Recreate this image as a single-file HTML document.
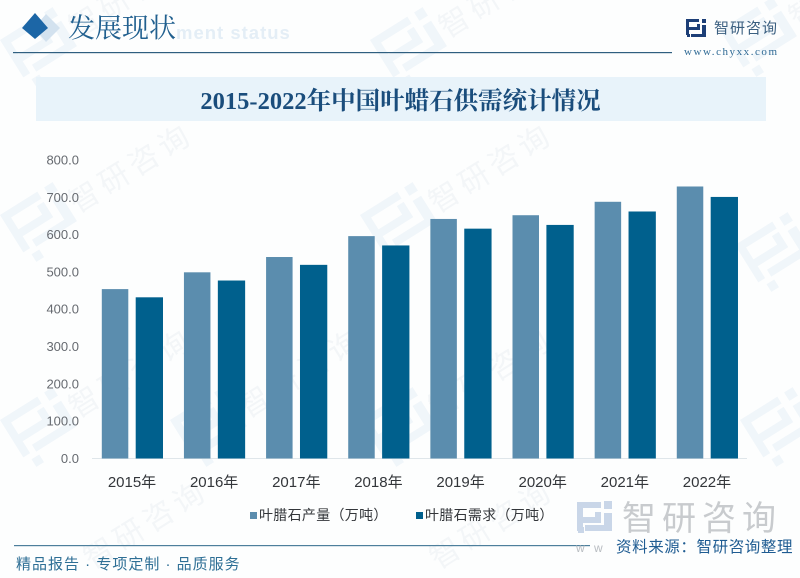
<!DOCTYPE html>
<html lang="zh">
<head>
<meta charset="utf-8">
<title>2015-2022年中国叶蜡石供需统计情况</title>
<style>
html,body{margin:0;padding:0;background:#fff;overflow:hidden}
#page{position:relative;width:800px;height:578px;overflow:hidden;background:#fdfefe}
svg{position:absolute;left:0;top:0}
</style>
</head>
<body>
<div id="page">
<svg id="chart" width="800" height="578" viewBox="0 0 800 578" xmlns="http://www.w3.org/2000/svg" style="filter:blur(.35px)">
  <defs>
    <g id="wm-logo">
      <path d="M0 0h44v8H8v14h28v-10h8v18H8v14H0zM52 0h10v10H52zM52 16h10v30H14v-8h38zM6 50h9v9H6z"/>
    </g>
  </defs>
  <g id="watermarks"></g>

  <g>
    <path d="M46 14l14 14-14 14-12-14z" fill="#d3e2ef"/>
    <path d="M35 13l13 15-13 11-13-11z" fill="#1c66a6"/>
    <text x="176" y="39" font-family="'Liberation Sans',sans-serif" font-weight="700" font-size="18.5" fill="#e4eef6" letter-spacing="1">ment status</text>
    <text x="68" y="37.5" font-family="'Liberation Serif','Noto Serif CJK SC',serif" font-size="27" fill="#21608f">发展现状</text>
    <rect x="13" y="52" width="659" height="1.2" fill="#2f5f80"/>
    <g>
      <path d="M686 19h13v3h-10v5h8v-3h3v6h-11v5h-3zM702 19h4v4h-4zM702 25h4v12h-15v-3h11zM687 34h3v3h-3z" fill="#1d3f77"/>
      <text x="714" y="33" font-family="'Liberation Sans','Noto Sans CJK SC',sans-serif" font-size="15" fill="#3a5f80" letter-spacing="1">智研咨询</text>
      <text x="684" y="55" font-family="'Liberation Serif','Noto Serif CJK SC',serif" font-size="11" fill="#2f6a95" letter-spacing="1.55">www.chyxx.com</text>
    </g>
  </g>

  <rect x="36" y="77" width="730" height="44" fill="#e8f3fa"/>
  <text x="400.5" y="109" text-anchor="middle" font-family="'Liberation Serif','Noto Serif CJK SC',serif" font-weight="700" font-size="24.5" fill="#1a4d7c">2015-2022年中国叶蜡石供需统计情况</text>

  <g id="plot"></g>

  <g id="legend"></g>

  <g>
    <rect x="14" y="545" width="576" height="1.2" fill="#4d7f9c"/>
    <g fill="#c9d6e8">
      <path d="M577 502h24v6h-18v9h12v-5h6v11h-18v8h-6zM604 501h8v8h-8zM604 513h8v18h-27v-6h19zM578 527h6v6h-6z"/>
    </g>
    <text x="622" y="530" font-family="'Liberation Sans','Noto Sans CJK SC',sans-serif" font-size="34" fill="#c8cbce" letter-spacing="6">智研咨询</text>
    <text x="576" y="552" font-family="'Liberation Sans',sans-serif" font-size="12" fill="#b9bdc2" letter-spacing="3">w w</text>
    <text x="16" y="569" font-family="'Liberation Sans','Noto Sans CJK SC',sans-serif" font-size="15" fill="#2e6f95" letter-spacing="1">精品报告 · 专项定制 · 品质服务</text>
    <text x="616" y="552" font-family="'Liberation Sans','Noto Sans CJK SC',sans-serif" font-size="15.5" fill="#1f5c92" letter-spacing=".6">资料来源：智研咨询整理</text>
  </g>
</svg>
</div>
<script>
const categories = ['2015年','2016年','2017年','2018年','2019年','2020年','2021年','2022年'];
const productionValues = [454,499,540,596,642,652,688,729];
const demandValues = [432,477,519,571,616,626,662,701];
const yTicks = [0,100,200,300,400,500,600,700,800];
const seriesNames = ['叶腊石产量（万吨）','叶腊石需求（万吨）'];

const NS = 'http://www.w3.org/2000/svg';
const FONT = "'Liberation Sans','Noto Sans CJK SC',sans-serif";
const plot = document.getElementById('plot');
const legend = document.getElementById('legend');
const watermarks = document.getElementById('watermarks');

function make(tag, attrs, parent, text) {
  const el = document.createElementNS(NS, tag);
  for (const k in attrs) el.setAttribute(k, attrs[k]);
  if (text !== undefined) el.textContent = text;
  parent.appendChild(el);
  return el;
}
function yScale(v) { return 458.5 - v * 0.37313; }
function xCenter(i) { return 132.5 + i * 82.14; }

yTicks.forEach(function (t) {
  const label = make('text', {x: 79, y: yScale(t) + 4.5, 'text-anchor': 'end', 'font-family': FONT, 'font-size': 13, fill: '#666a70'}, plot, t.toFixed(1));
  
  
});

const axisLine = make('rect', {x: 92, y: 458, width: 655, height: 1, fill: '#dfe6ea'}, plot);



categories.forEach(function (c, i) {
  const cx = xCenter(i);
  const top1 = yScale(productionValues[i]);
  const bar1 = make('rect', {x: cx - 30.7, y: top1, width: 26.5, height: yScale(0) - top1, fill: '#5b8dae'}, plot);
  
  
  const top2 = yScale(demandValues[i]);
  const bar2 = make('rect', {x: cx + 3.2, y: top2, width: 27.3, height: yScale(0) - top2, fill: '#00608d'}, plot);
  
  
  const label = make('text', {x: cx - 0.5, y: 487, 'text-anchor': 'middle', 'font-family': FONT, 'font-size': 15, fill: '#33363a'}, plot, c);
  
  
});

const legendColors = ['#5b8dae', '#00608d'];
const legendX = [250, 416];
seriesNames.forEach(function (name, i) {
  const swatch = make('rect', {x: legendX[i], y: 512, width: 7, height: 7, fill: legendColors[i]}, legend);
  
  
  const label = make('text', {x: legendX[i] + 9, y: 520, 'font-family': FONT, 'font-size': 14, fill: '#33363a', 'letter-spacing': '.3'}, legend, name);
  
  
});

const stampSpots = [[0,215],[360,215],[735,245],[0,40],[370,40],[720,30],[0,420],[170,420],[360,420],[740,420]];
stampSpots.forEach(function (s) {
  const g = make('g', {transform: 'translate(' + s[0] + ' ' + s[1] + ') rotate(-32)', opacity: .55}, watermarks);
  
  
  make('use', {href: '#wm-logo', fill: '#e6eef6'}, g);
  make('text', {x: 66, y: 40, 'font-family': FONT, 'font-size': 30, fill: '#eceff3', 'letter-spacing': 5}, g, '智研咨询');
});

const stampTextSpots = [[92,570],[438,570]];
stampTextSpots.forEach(function (s) {
  const t = make('text', {transform: 'translate(' + s[0] + ' ' + s[1] + ') rotate(-32)', opacity: .55, 'font-family': FONT, 'font-size': 30, fill: '#eceff3', 'letter-spacing': 5}, watermarks, '智研咨询');
  
  
});
</script>
</body>
</html>
